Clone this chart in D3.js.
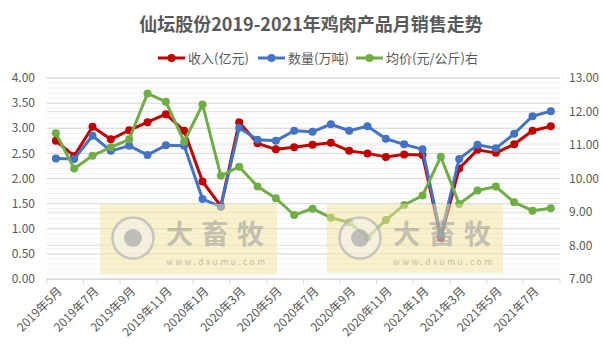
<!DOCTYPE html>
<html><head><meta charset="utf-8">
<script src="https://cdn.jsdelivr.net/npm/d3@7"></script>
<style>body{margin:0;background:#fff;}svg{display:block;font-family:"Microsoft YaHei","Noto Sans CJK SC",sans-serif;}</style>
</head><body>
<svg id="c" width="602" height="359"></svg>
<script>
const categories = ["2019年5月","2019年6月","2019年7月","2019年8月","2019年9月","2019年10月","2019年11月","2019年12月",
 "2020年1月","2020年2月","2020年3月","2020年4月","2020年5月","2020年6月","2020年7月","2020年8月","2020年9月","2020年10月","2020年11月","2020年12月",
 "2021年1月","2021年2月","2021年3月","2021年4月","2021年5月","2021年6月","2021年7月","2021年8月"];
const revenue = [2.75,2.45,3.03,2.78,2.96,3.12,3.28,2.95,1.94,1.45,3.12,2.70,2.58,2.62,2.67,2.71,2.55,2.50,2.43,2.48,2.47,0.82,2.20,2.57,2.51,2.68,2.95,3.04];
const volume = [2.40,2.39,2.85,2.55,2.65,2.47,2.66,2.65,1.59,1.44,3.01,2.77,2.75,2.95,2.93,3.08,2.95,3.04,2.79,2.68,2.58,0.87,2.39,2.67,2.60,2.89,3.24,3.34];
const price = [11.35,10.30,10.68,10.93,11.17,12.54,12.29,11.10,12.21,10.08,10.35,9.76,9.41,8.91,9.10,8.83,8.69,8.24,8.76,9.21,9.49,10.65,9.24,9.64,9.76,9.29,9.04,9.11];
const leftTicks = [0,0.5,1,1.5,2,2.5,3,3.5,4];
const rightTicks = [7,8,9,10,11,12,13];
const seriesNames = ["收入(亿元)","数量(万吨)","均价(元/公斤)右"];
const colors = ["#c00000","#4472c4","#70ad47"];

const svg = d3.select("#c");
const L = 46.7, R = 560, T = 78, B = 279;
const x = d3.scaleBand().domain(categories).range([L, R]);
const yL = d3.scaleLinear().domain([0,4]).range([B,T]);
const yR = d3.scaleLinear().domain([7,13]).range([B,T]);

// minor gridlines
const minor = d3.range(0,4.0001,0.1);
svg.append("g").selectAll("line").data(minor).join("line")
  .attr("x1",L).attr("x2",R).attr("y1",d=>yL(d)).attr("y2",d=>yL(d))
  .attr("stroke","#f0f0f0").attr("stroke-width",1);
svg.append("g").selectAll("line").data(rightTicks).join("line")
  .attr("x1",L).attr("x2",R).attr("y1",d=>yR(d)).attr("y2",d=>yR(d))
  .attr("stroke","#e4e4e4").attr("stroke-width",1);
svg.append("g").selectAll("line").data(leftTicks).join("line")
  .attr("x1",L).attr("x2",R).attr("y1",d=>yL(d)).attr("y2",d=>yL(d))
  .attr("stroke","#d9d9d9").attr("stroke-width",1);

// axes labels
svg.append("g").selectAll("text").data(leftTicks).join("text")
  .attr("x",35).attr("y",d=>yL(d)).attr("dy","0.35em").attr("text-anchor","end")
  .attr("font-size",12).attr("fill","#595959").text(d=>d.toFixed(2));
svg.append("g").selectAll("text").data(rightTicks).join("text")
  .attr("x",569).attr("y",d=>yR(d)).attr("dy","0.35em").attr("text-anchor","start")
  .attr("font-size",12).attr("fill","#595959").text(d=>d.toFixed(2));

// x axis
svg.append("line").attr("x1",L).attr("x2",R).attr("y1",B+0.5).attr("y2",B+0.5).attr("stroke","#d9d9d9");
const tickIdx = d3.range(0, categories.length+1, 2);
svg.append("g").selectAll("line").data(tickIdx).join("line")
  .attr("x1",i=>L+i*x.step()).attr("x2",i=>L+i*x.step()).attr("y1",B).attr("y2",B+5)
  .attr("stroke","#d9d9d9");
const labelCats = categories.filter((d,i)=>i%2===0);
svg.append("g").selectAll("text").data(labelCats).join("text")
  .attr("transform",d=>`translate(${x(d)+x.bandwidth()/2+4},${B+10}) rotate(-45)`)
  .attr("text-anchor","end").attr("dy","0.35em")
  .attr("font-size",12).attr("fill","#595959").text(d=>d);

// series
const data = [revenue, volume, price];
const scales = [yL, yL, yR];
data.forEach((arr,k)=>{
  const line = d3.line().x((d,i)=>x(categories[i])+x.bandwidth()/2).y(d=>scales[k](d));
  svg.append("path").datum(arr).attr("d",line).attr("fill","none")
    .attr("stroke",colors[k]).attr("stroke-width",3).attr("stroke-linejoin","round");
  svg.append("g").selectAll("circle").data(arr).join("circle")
    .attr("cx",(d,i)=>x(categories[i])+x.bandwidth()/2).attr("cy",d=>scales[k](d))
    .attr("r",4).attr("fill",colors[k]);
});

// watermarks
const wms = [{x:100,y:204,w:177,h:70},{x:327,y:204,w:176,h:69}];
wms.forEach(w=>{
  const g = svg.append("g");
  g.append("rect").attr("x",w.x).attr("y",w.y).attr("width",w.w).attr("height",w.h)
    .attr("fill","#f3e49a").attr("opacity",0.5);
  g.append("circle").attr("cx",w.x+33).attr("cy",w.y+34).attr("r",20.5)
    .attr("fill","#f4f4f4").attr("fill-opacity",0.6).attr("stroke","#b8b8b8").attr("stroke-width",2.5).attr("opacity",0.75);
  g.append("circle").attr("cx",w.x+33).attr("cy",w.y+34).attr("r",9)
    .attr("fill","#a8a8a8").attr("opacity",0.7);
  g.append("text").attr("x",w.x+66).attr("y",w.y+40).attr("font-size",27).attr("font-weight","bold")
    .attr("fill","#9a9a9a").attr("opacity",0.55).attr("textLength",98).text("大畜牧");
  g.append("text").attr("x",w.x+66).attr("y",w.y+61).attr("font-size",8.5)
    .attr("fill","#9a9a9a").attr("opacity",0.6).attr("textLength",99).text("www.dxumu.com");
});

// title
svg.append("text").attr("x",311).attr("y",25).attr("dy","0.35em").attr("text-anchor","middle")
  .attr("font-size",18).attr("font-weight","bold").attr("fill","#595959")
  .text("仙坛股份2019-2021年鸡肉产品月销售走势");

// legend
const legX = [158,258,356];
seriesNames.forEach((n,k)=>{
  const g = svg.append("g");
  g.append("line").attr("x1",legX[k]).attr("x2",legX[k]+27).attr("y1",58).attr("y2",58)
    .attr("stroke",colors[k]).attr("stroke-width",3);
  g.append("circle").attr("cx",legX[k]+13.5).attr("cy",58).attr("r",4).attr("fill",colors[k]);
  g.append("text").attr("x",legX[k]+30).attr("y",58).attr("dy","0.35em")
    .attr("font-size",13).attr("fill","#595959").text(n);
});
</script>
</body></html>
